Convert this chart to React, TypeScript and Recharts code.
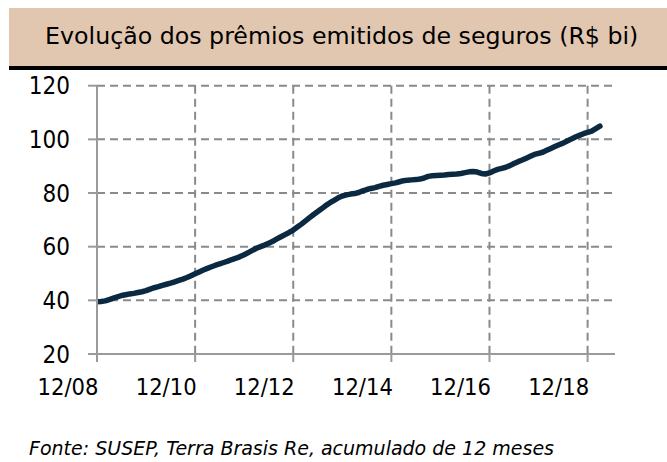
import React from 'react';
import { LineChart, Line, XAxis, YAxis, CartesianGrid } from 'recharts';

// Monthly accumulated 12-month premiums (R$ bi), Dec/2008 .. Mar/2019
const premiums: number[] = [
  39.5, 39.6, 39.8, 40.3, 40.8, 41.3, 41.8, 42.1, 42.4, 42.6, 42.9, 43.2,
  43.6, 44.2, 44.7, 45.1, 45.6, 46.0, 46.4, 46.9, 47.4, 47.9, 48.5, 49.2,
  49.9, 50.6, 51.3, 51.9, 52.5, 53.1, 53.6, 54.1, 54.6, 55.2, 55.7, 56.3,
  57.0, 57.8, 58.6, 59.4, 60.0, 60.6, 61.3, 62.0, 62.9, 63.7, 64.5, 65.3,
  66.2, 67.3, 68.4, 69.6, 70.8, 72.0, 73.1, 74.2, 75.4, 76.4, 77.3, 78.2,
  78.9, 79.3, 79.6, 79.8, 80.2, 80.8, 81.3, 81.7, 82.0, 82.5, 82.9, 83.2,
  83.5, 83.8, 84.2, 84.6, 84.8, 84.9, 85.0, 85.2, 85.6, 86.2, 86.4, 86.5,
  86.6, 86.7, 86.9, 87.0, 87.1, 87.3, 87.6, 87.9, 88.0, 87.8, 87.3, 87.1,
  87.5, 88.2, 88.8, 89.2, 89.6, 90.2, 91.0, 91.7, 92.3, 93.0, 93.7, 94.4,
  94.8, 95.2, 95.9, 96.6, 97.3, 98.0, 98.6, 99.4, 100.1, 100.9, 101.5, 102.1,
  102.6, 103.1, 104.0, 104.9,
];

const xTickIndices: number[] = [0, 24, 48, 72, 96, 120];
const xTickLabels: string[] = ['12/08', '12/10', '12/12', '12/14', '12/16', '12/18'];
const yTicks: number[] = [20, 40, 60, 80, 100, 120];

const title = 'Evolução dos prêmios emitidos de seguros (R$ bi)';
const footer = 'Fonte: SUSEP, Terra Brasis Re, acumulado de 12 meses';

const data = premiums.map((v, i) => ({ m: i, v }));

const tickFont = "'DejaVu Sans Condensed', 'DejaVu Sans', sans-serif";

const XTick = (props: any) => {
  const { x, y, payload } = props;
  const idx = xTickIndices.indexOf(payload.value);
  return (
    <text x={x + 1.5} y={y + 31} textAnchor="end" fontFamily={tickFont} fontSize={23.5} fill="#000">
      {xTickLabels[idx]}
    </text>
  );
};

export default function App() {
  return (
    <div style={{ position: 'absolute', left: 0, top: 0, width: 667, height: 462, background: '#fff' }}>
      <svg width={667} height={462} style={{ position: 'absolute', left: 0, top: 0 }}>
        <rect x={9} y={8} width={658} height={58} fill="#E2C7B0" />
        <rect x={9} y={66} width={658} height={4} fill="#000" />
        <text x={341.7} y={44} textAnchor="middle" fontFamily="'DejaVu Sans', sans-serif" fontSize={23.7} fill="#000">
          {title}
        </text>
        <text x={29} y={455} fontFamily="'DejaVu Sans', sans-serif" fontStyle="italic" fontSize={19} fill="#000">
          {footer}
        </text>
      </svg>
      <div style={{ position: 'absolute', left: 0, top: 0 }}>
        <LineChart width={667} height={462} data={data} margin={{ top: 85.7, right: 52, bottom: 68, left: 37 }}>
          <CartesianGrid stroke="#8a8a8a" strokeWidth={2} strokeDasharray="8 5" syncWithTicks />
          <XAxis
            dataKey="m"
            type="number"
            domain={[0, 126.7]}
            ticks={xTickIndices}
            interval={0}
            height={40}
            tickSize={8}
            axisLine={{ stroke: '#9a9a9a', strokeWidth: 2 }}
            tickLine={{ stroke: '#9a9a9a', strokeWidth: 2 }}
            tick={<XTick />}
            allowDataOverflow
          />
          <YAxis
            type="number"
            domain={[20, 120]}
            ticks={yTicks}
            interval={0}
            width={60}
            tickSize={9}
            tickMargin={18}
            axisLine={{ stroke: '#9a9a9a', strokeWidth: 2 }}
            tickLine={{ stroke: '#9a9a9a', strokeWidth: 2 }}
            tick={{ fontFamily: tickFont, fontSize: 24, fill: '#000' }}
            allowDataOverflow
          />
          <Line
            dataKey="v"
            type="linear"
            stroke="#0B2A42"
            strokeWidth={5.5}
            strokeLinecap="round"
            strokeLinejoin="round"
            dot={false}
            activeDot={false}
            isAnimationActive={false}
          />
        </LineChart>
      </div>
    </div>
  );
}
